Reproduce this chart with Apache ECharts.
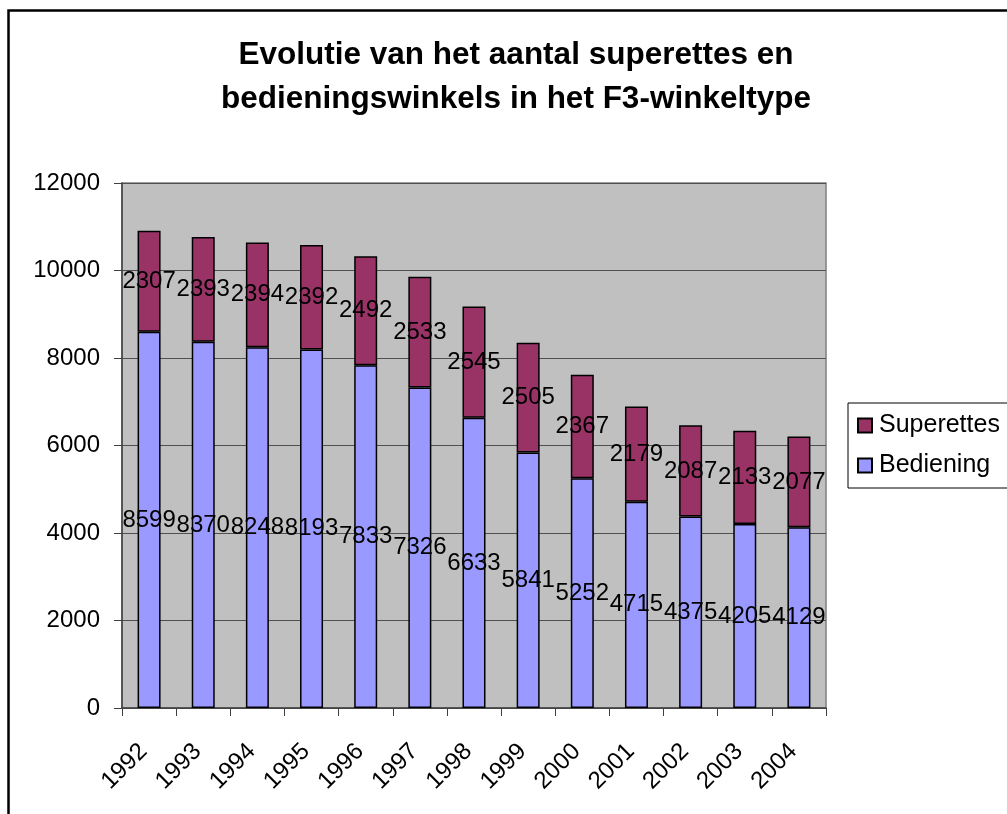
<!DOCTYPE html>
<html>
<head>
<meta charset="utf-8">
<script src="https://cdn.jsdelivr.net/npm/echarts@6/dist/echarts.min.js"></script>
<style>html,body{margin:0;padding:0;background:#fff}#c{width:1007px;height:814px}</style>
</head>
<body>
<div id="c"></div>
<script>
var years = ['1992','1993','1994','1995','1996','1997','1998','1999','2000','2001','2002','2003','2004'];
var bediening = [8599, 8370, 8248, 8193, 7833, 7326, 6633, 5841, 5252, 4715, 4375, 4205, 4129];
var superettes = [2307, 2393, 2394, 2392, 2492, 2533, 2545, 2505, 2367, 2179, 2087, 2133, 2077];

var FONT = '"Liberation Sans", Arial, sans-serif';
var chart = echarts.init(document.getElementById('c'), null, {renderer: 'canvas'});
var labelCfg = {
  show: true, position: 'inside', color: '#000', fontSize: 24, fontFamily: FONT,
  textBorderWidth: 0
};
chart.setOption({
  animation: false,
  backgroundColor: '#fff',
  textStyle: {fontFamily: FONT},
  graphic: [
    {type: 'rect', shape: {x: 8.5, y: 10.5, width: 1200, height: 1000},
     style: {fill: 'none', stroke: '#000', lineWidth: 2.5}, z: 100},
    {type: 'text', x: 516, y: 77,
     style: {text: 'Evolutie van het aantal superettes en\nbedieningswinkels in het F3-winkeltype',
             fontSize: 31.5, fontWeight: 'bold', fontFamily: FONT, fill: '#000',
             textAlign: 'center', textVerticalAlign: 'middle', lineHeight: 44}}
  ],
  grid: {left: 122, top: 183, right: 181, bottom: 106, show: true,
         backgroundColor: '#C0C0C0', borderColor: '#808080', borderWidth: 1.5},
  legend: {
    orient: 'vertical', left: 848, top: 403,
    data: ['Superettes', 'Bediening'],
    padding: [10, 40, 10, 9],
    itemGap: 15, itemWidth: 14, itemHeight: 14,
    borderColor: '#000', borderWidth: 1,
    icon: 'rect',
    textStyle: {fontSize: 25, color: '#000', fontFamily: FONT, padding: [0, 0, 0, 2]}
  },
  xAxis: {
    type: 'category', data: years,
    axisLine: {lineStyle: {color: '#404040', width: 1.5}},
    axisTick: {show: true, length: 8, lineStyle: {color: '#404040'}},
    axisLabel: {rotate: 45, fontSize: 24, color: '#000', margin: 34, interval: 0, fontFamily: FONT,
                padding: [0, 8, 0, 0]}
  },
  yAxis: {
    type: 'value', min: 0, max: 12000, interval: 2000,
    axisLine: {show: true, lineStyle: {color: '#404040', width: 1.5}},
    axisTick: {show: true, length: 8, lineStyle: {color: '#404040'}},
    axisLabel: {fontSize: 24, color: '#000', margin: 22, fontFamily: FONT,
                formatter: function (v) { return String(v); }},
    splitLine: {show: true, lineStyle: {color: '#505050', width: 1.2}}
  },
  series: [
    {name: 'Bediening', type: 'bar', stack: 'tot', data: bediening, barWidth: 23,
     itemStyle: {color: '#9999FF', borderColor: '#000', borderWidth: 1.5},
     label: labelCfg, labelLayout: {hideOverlap: false}},
    {name: 'Superettes', type: 'bar', stack: 'tot', data: superettes, barWidth: 23,
     itemStyle: {color: '#993366', borderColor: '#000', borderWidth: 1.5},
     label: labelCfg, labelLayout: {hideOverlap: false}}
  ]
});
</script>
</body>
</html>
